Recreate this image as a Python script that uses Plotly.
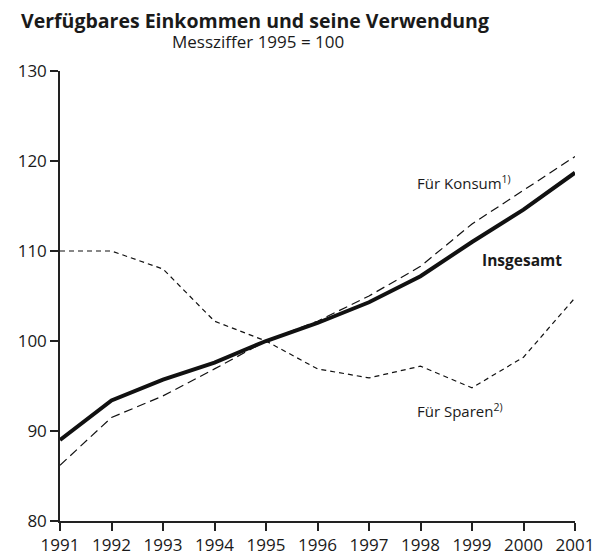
import plotly.graph_objects as go

years = list(range(1991, 2002))
insgesamt = [89.0, 93.4, 95.7, 97.6, 100.0, 102.0, 104.3, 107.2, 111.0, 114.6, 118.7]
konsum = [86.2, 91.5, 93.9, 96.9, 100.0, 102.2, 105.0, 108.3, 113.0, 116.8, 120.5]
sparen = [110.0, 110.0, 108.0, 102.2, 100.0, 96.9, 95.9, 97.2, 94.8, 98.2, 104.8]
y_ticks = [80, 90, 100, 110, 120, 130]

FONT = "Open Sans"
TXT = "#1a1a1a"

fig = go.Figure()
fig.add_trace(go.Scatter(x=years, y=sparen, mode="lines",
                         line=dict(color="#111", width=1.2, dash="5px,4px")))
fig.add_trace(go.Scatter(x=years, y=konsum, mode="lines",
                         line=dict(color="#111", width=1.2, dash="9px,5px")))
fig.add_trace(go.Scatter(x=years, y=insgesamt, mode="lines",
                         line=dict(color="#111", width=4)))

# page body has an 8px default margin; compensate so the plot lands where the reference has it
fig.update_layout(
    width=595, height=552,
    margin=dict(l=52, r=28, t=63, b=39),
    paper_bgcolor="white", plot_bgcolor="white",
    showlegend=False,
    font=dict(family=FONT, color=TXT),
    xaxis=dict(range=[1991, 2001], tickvals=years, ticktext=[str(y) for y in years],
               automargin=False,
               showgrid=False, zeroline=False, showline=True, linecolor="#222", linewidth=1.5,
               ticks="outside", ticklen=8, tickwidth=1.5, tickcolor="#222",
               tickfont=dict(size=17, family=FONT, color=TXT)),
    yaxis=dict(range=[80, 130], tickvals=y_ticks, automargin=False,
               showgrid=False, zeroline=False, showline=True, linecolor="#222", linewidth=1.5,
               ticks="outside", ticklen=8, tickwidth=1.5, tickcolor="#222",
               tickfont=dict(size=17, family=FONT, color=TXT)),
)

fig.add_annotation(xref="paper", yref="paper", x=0.379, y=1, yshift=51, yanchor="middle",
                   text="<b>Verfügbares Einkommen und seine Verwendung</b>",
                   showarrow=False, font=dict(size=19.5, family=FONT, color=TXT))
fig.add_annotation(xref="paper", yref="paper", x=0.385, y=1, yshift=30, yanchor="middle",
                   text="Messziffer 1995 = 100",
                   showarrow=False, font=dict(size=17, family=FONT, color=TXT))
fig.add_annotation(x=1997.89, y=117.6, xanchor="left", yanchor="middle",
                   text="Für Konsum<sup>1)</sup>", showarrow=False,
                   font=dict(size=15, family=FONT, color=TXT))
fig.add_annotation(x=1999.16, y=109.0, xanchor="left", yanchor="middle",
                   text="<b>Insgesamt</b>", showarrow=False,
                   font=dict(size=15.5, family=FONT, color=TXT))
fig.add_annotation(x=1997.89, y=92.3, xanchor="left", yanchor="middle",
                   text="Für Sparen<sup>2)</sup>", showarrow=False,
                   font=dict(size=15, family=FONT, color=TXT))

fig.write_html("out.html")
